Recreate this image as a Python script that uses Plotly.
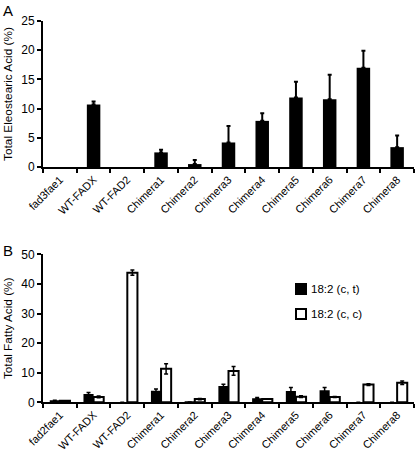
import plotly.graph_objects as go

W, H = 416, 453

cats_a = ["fad3fae1", "WT-FADX", "WT-FAD2", "Chimera1", "Chimera2", "Chimera3",
          "Chimera4", "Chimera5", "Chimera6", "Chimera7", "Chimera8"]
eleo_vals = [0, 10.7, 0, 2.5, 0.5, 4.2, 7.9, 11.9, 11.6, 17.0, 3.4]
eleo_err = [None, 0.5, None, 0.45, 0.7, 2.8, 1.3, 2.7, 4.2, 2.9, 2.0]

cats_b = ["fad2fae1", "WT-FADX", "WT-FAD2", "Chimera1", "Chimera2", "Chimera3",
          "Chimera4", "Chimera5", "Chimera6", "Chimera7", "Chimera8"]
ct_vals = [0.7, 2.8, 0, 3.9, 0.1, 5.5, 1.4, 3.8, 4.1, 0, 0]
ct_err = [None, 0.5, None, 0.6, None, 0.6, 0.2, 1.2, 0.9, None, None]
cc_vals = [0.5, 1.8, 43.8, 11.3, 1.1, 10.6, 1.1, 1.9, 1.8, 6.0, 6.6]
cc_err = [None, 0.3, 0.9, 1.7, 0.2, 1.5, 0.1, 0.3, 0.2, 0.3, 0.6]

series_names = ["18:2 (c, t)", "18:2 (c, c)"]
series_fill = ["black", "white"]

FONT = "Liberation Sans, Arial, sans-serif"

fig = go.Figure()

fig.add_trace(go.Bar(
    x=cats_a, y=eleo_vals, xaxis="x", yaxis="y", width=0.4,
    marker=dict(color="black", line=dict(width=0)),
    showlegend=False, hoverinfo="skip",
))
# error bars only where an error exists
err_idx = [i for i, e in enumerate(eleo_err) if e is not None]
fig.add_trace(go.Scatter(
    x=[cats_a[i] for i in err_idx], y=[eleo_vals[i] for i in err_idx],
    xaxis="x", yaxis="y", mode="markers", marker=dict(size=1, opacity=0),
    error_y=dict(type="data", array=[eleo_err[i] for i in err_idx],
                 arrayminus=[0] * len(err_idx), symmetric=False,
                 color="black", thickness=2, width=2),
    showlegend=False, hoverinfo="skip",
))

fig.add_trace(go.Bar(
    x=cats_b, y=ct_vals, xaxis="x2", yaxis="y2", name=series_names[0],
    offset=-0.3, width=0.3, showlegend=False,
    marker=dict(color=series_fill[0], line=dict(width=0)),
    error_y=dict(type="data", array=ct_err, color="black", thickness=1.5, width=2),
))
fig.add_trace(go.Bar(
    x=cats_b, y=cc_vals, xaxis="x2", yaxis="y2", name=series_names[1],
    offset=0, width=0.3, showlegend=False,
    marker=dict(color=series_fill[1], line=dict(color="black", width=2)),
    error_y=dict(type="data", array=cc_err, color="black", thickness=1.5, width=2),
))

def px_x(p):
    return p / W

def px_y(p):
    return 1 - p / H

xdom = [px_x(43), px_x(414)]
axis_common = dict(showline=True, linecolor="black", linewidth=2,
                   ticks="outside", tickcolor="black", tickwidth=2, ticklen=4,
                   showgrid=False, zeroline=False, automargin=False,
                   tickfont=dict(family=FONT, size=11, color="black"))
ytickfont = dict(family=FONT, size=12, color="black")
title_font = dict(family=FONT, size=11.8, color="black")

# legend drawn as swatches + labels (pixel layout)
shapes = []
annotations = []
for i, (name, fill) in enumerate(zip(series_names, series_fill)):
    top = 284 + i * 25
    shapes.append(dict(type="rect", xref="paper", yref="paper",
                       x0=px_x(296), x1=px_x(306), y0=px_y(top + 10), y1=px_y(top),
                       fillcolor=fill, line=dict(color="black", width=2)))
    annotations.append(dict(text=name, x=px_x(309), y=px_y(top + 5), xref="paper", yref="paper",
                            xanchor="left", yanchor="middle", showarrow=False,
                            font=dict(family=FONT, size=11.5, color="black")))

annotations += [
    dict(text="A", x=px_x(1), y=px_y(0), xref="paper", yref="paper",
         xanchor="left", yanchor="top", showarrow=False,
         font=dict(family=FONT, size=15, color="black")),
    dict(text="B", x=px_x(1), y=px_y(240), xref="paper", yref="paper",
         xanchor="left", yanchor="top", showarrow=False,
         font=dict(family=FONT, size=15, color="black")),
]

fig.update_layout(
    width=W, height=H,
    margin=dict(l=0, r=0, t=0, b=0),
    paper_bgcolor="white", plot_bgcolor="white",
    font=dict(family=FONT, color="black"),
    barmode="group",
    showlegend=False,
    xaxis=dict(domain=xdom, anchor="y", type="category", tickangle=-45,
               tickson="boundaries", range=[-0.5, 10.5], **axis_common),
    yaxis=dict(domain=[px_y(167), px_y(21)], anchor="x", range=[0, 25], dtick=5,
               title=dict(text="Total Eleostearic Acid (%)", standoff=6, font=title_font),
               **{**axis_common, "tickfont": ytickfont}),
    xaxis2=dict(domain=xdom, anchor="y2", type="category", tickangle=-45,
                tickson="boundaries", range=[-0.5, 10.5], **axis_common),
    yaxis2=dict(domain=[px_y(402.3), px_y(254.3)], anchor="x2", range=[0, 50], dtick=10,
                title=dict(text="Total Fatty Acid (%)", standoff=6, font=title_font),
                **{**axis_common, "tickfont": ytickfont}),
    shapes=shapes,
    annotations=annotations,
)

fig.write_html("out.html", config={"displayModeBar": False},
               post_script="document.body.style.margin='0';document.body.style.overflow='hidden';")
